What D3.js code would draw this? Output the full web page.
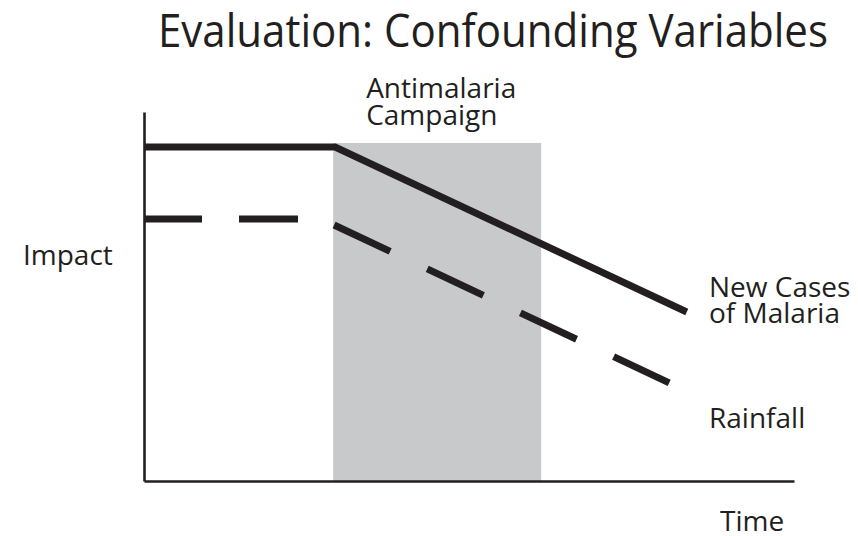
<!DOCTYPE html>
<html>
<head>
<meta charset="utf-8">
<script src="https://cdn.jsdelivr.net/npm/d3@7"></script>
<style>
  body { margin: 0; background: #fff; }
  text { font-family: "Open Sans", "Noto Sans", sans-serif; fill: #231f20; }
</style>
</head>
<body>
<svg width="858" height="536"></svg>
<script>
// schematic values, time 0-100, impact 0-100
const campaign = [29.1, 61.1];
const campaignTop = 91.6;
const malaria = [[0, 90.5], [29.4, 90.5], [83.5, 45.8]];
const rainfall = [[0, 71.0], [29.2, 71.0], [29.2, 69.4], [80.8, 26.6]];
const seriesLabels = [["New Cases", "of Malaria"], ["Rainfall"]];

const svg = d3.select('svg');
const ink = '#231f20';
const fs = 28;

const x = d3.scaleLinear().domain([0, 100]).range([144, 794]);
const y = d3.scaleLinear().domain([0, 100]).range([481, 112]);

// gray band for the campaign
svg.append('rect')
  .attr('x', x(campaign[0]))
  .attr('y', y(campaignTop))
  .attr('width', x(campaign[1]) - x(campaign[0]))
  .attr('height', y(0) - y(campaignTop))
  .attr('fill', '#c8c9cb');

// axes, no ticks
svg.append('g')
  .attr('transform', 'translate(0,' + y(0) + ')')
  .call(d3.axisBottom(x).ticks(0).tickSizeOuter(0));
svg.append('g')
  .attr('transform', 'translate(' + x(0) + ',0)')
  .call(d3.axisLeft(y).ticks(0).tickSizeOuter(0));
svg.selectAll('.domain').attr('stroke', ink).attr('stroke-width', 2.6);

const line = d3.line().x(d => x(d[0])).y(d => y(d[1]));

svg.append('path')
  .datum(malaria)
  .attr('d', line)
  .attr('fill', 'none')
  .attr('stroke', ink)
  .attr('stroke-width', 7);

svg.append('path')
  .datum(rainfall)
  .attr('d', line)
  .attr('fill', 'none')
  .attr('stroke', ink)
  .attr('stroke-width', 7)
  .attr('stroke-dasharray', '58,37,59,42,62,41,62,41,62,41,62,100');

// title
svg.append('text')
  .attr('x', 158).attr('y', 47)
  .attr('font-size', 45)
  .attr('textLength', 670)
  .attr('lengthAdjust', 'spacingAndGlyphs')
  .text('Evaluation: Confounding Variables');

// campaign label
svg.append('text')
  .attr('x', x(campaign[0]) + 33).attr('y', 98)
  .attr('font-size', fs)
  .text('Antimalaria');
svg.append('text')
  .attr('x', x(campaign[0]) + 33).attr('y', 125)
  .attr('font-size', fs)
  .text('Campaign');

// series labels
seriesLabels[0].forEach((s, i) => {
  svg.append('text')
    .attr('x', 709).attr('y', 297 + i * 26)
    .attr('font-size', fs)
    .text(s);
});
svg.append('text')
  .attr('x', 709).attr('y', 428)
  .attr('font-size', fs)
  .text(seriesLabels[1][0]);

// axis titles
svg.append('text')
  .attr('x', 23).attr('y', 265)
  .attr('font-size', fs)
  .text('Impact');
svg.append('text')
  .attr('x', 720).attr('y', 531)
  .attr('font-size', fs)
  .text('Time');
</script>
</body>
</html>
